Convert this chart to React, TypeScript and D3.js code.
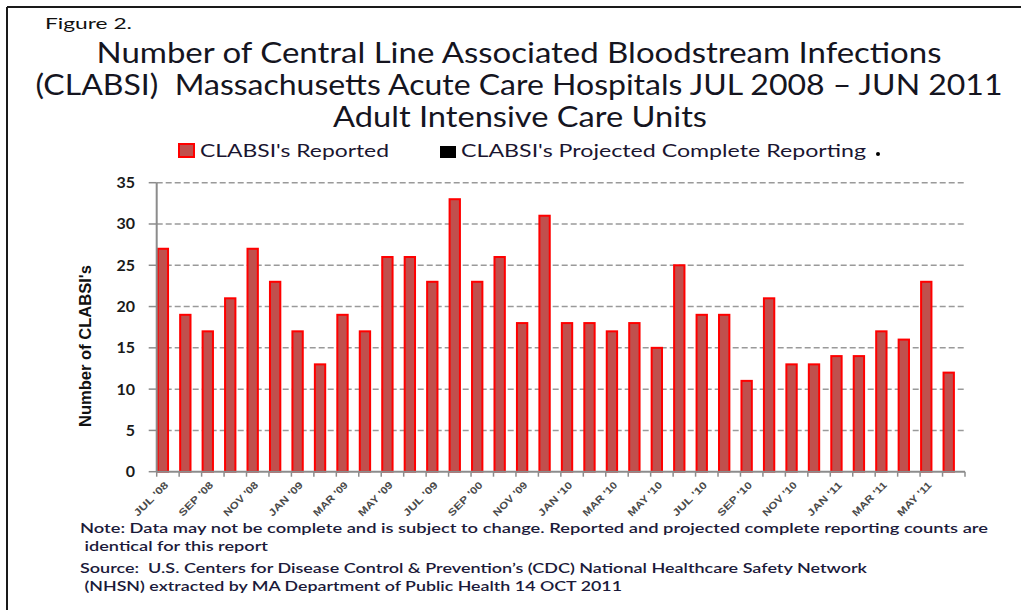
import React from "react";
import * as d3 from "d3";

const months = [
  "JUL '08","AUG '08","SEP '08","OCT '08","NOV '08","DEC '08",
  "JAN '09","FEB '09","MAR '09","APR '09","MAY '09","JUN '09",
  "JUL '09","AUG '09","SEP '00","OCT '09","NOV '09","DEC '09",
  "JAN '10","FEB '10","MAR '10","APR '10","MAY '10","JUN '10",
  "JUL '10","AUG '10","SEP '10","OCT '10","NOV '10","DEC '10",
  "JAN '11","FEB '11","MAR '11","APR '11","MAY '11","JUN '11",
];
const reported = [
  27,19,17,21,27,23,
  17,13,19,17,26,26,
  23,33,23,26,18,31,
  18,18,17,18,15,25,
  19,19,11,21,13,13,
  14,14,17,16,23,12,
];
const projected = reported.map(() => 0);
const yTicks = [0,5,10,15,20,25,30,35];
const titleLines = [
  "Number of Central Line Associated Bloodstream Infections",
  "(CLABSI)  Massachusetts Acute Care Hospitals JUL 2008 \u2013 JUN 2011",
  "Adult Intensive Care Units",
];
const noteLines = [
  "Note: Data may not be complete and is subject to change. Reported and projected complete reporting counts are",
  " identical for this report",
  "Source:  U.S. Centers for Disease Control & Prevention\u2019s (CDC) National Healthcare Safety Network",
  " (NHSN) extracted by MA Department of Public Health 14 OCT 2011",
];

const FONT = "Lato, 'Open Sans', sans-serif";

export default function App() {
  const left = 156.7, right = 965, top = 182.7, bottom = 471.7;
  const x = d3.scaleBand<string>().domain(months).range([left, right]).padding(0);
  const y = d3.scaleLinear().domain([0, 35]).range([bottom, top]);
  const bw = x.bandwidth();
  const sub = d3.scaleBand<string>().domain(["rep", "proj"]).range([0, bw * 1.1]).padding(0);

  const titleSpec = [
    { x: 519, y: 63, len: 845 },
    { x: 519, y: 95, len: 967 },
    { x: 520, y: 127, len: 374 },
  ];
  const noteSpec = [
    { x: 80, y: 533, len: 908 },
    { x: 80, y: 551, len: 188 },
    { x: 80, y: 573, len: 787 },
    { x: 80, y: 591, len: 542 },
  ];

  return (
    <svg width={1021} height={610} style={{ position: "absolute", left: 0, top: 0, background: "#fff" }}>
      <rect x={0} y={0} width={1021} height={610} fill="#fff" />
      <line x1={7} y1={7} x2={1021} y2={7} stroke="#1a1a1a" strokeWidth={2} />
      <line x1={7} y1={7} x2={7} y2={610} stroke="#1a1a1a" strokeWidth={2} />

      <text x={45} y={29} fontFamily={FONT} fontSize={16} fill="#111" textLength={87} lengthAdjust="spacingAndGlyphs">Figure 2.</text>
      {titleLines.map((t, i) => (
        <text key={i} x={titleSpec[i].x} y={titleSpec[i].y} textAnchor="middle" fontFamily={FONT}
          fontSize={28} fill="#15151f" textLength={titleSpec[i].len} lengthAdjust="spacingAndGlyphs"
          style={{ whiteSpace: "pre" }}>{t}</text>
      ))}

      {/* legend */}
      <rect x={179} y={144} width={15} height={13} fill="#C0504D" stroke="#FF0000" strokeWidth={2} />
      <text x={200} y={157} fontFamily={FONT} fontSize={17} fill="#1a1530" textLength={189} lengthAdjust="spacingAndGlyphs">CLABSI's Reported</text>
      <rect x={440} y={146} width={16} height={12} fill="#000" />
      <text x={461} y={157} fontFamily={FONT} fontSize={17} fill="#1a1530" textLength={405} lengthAdjust="spacingAndGlyphs">CLABSI's Projected Complete Reporting</text>
      <circle cx={878} cy={154} r={2} fill="#000" />

      {/* gridlines */}
      {yTicks.filter(t => t > 0).map(t => (
        <line key={t} x1={left} x2={right} y1={y(t)} y2={y(t)} stroke="#9a9a9a" strokeWidth={1.5} strokeDasharray="6,3" />
      ))}

      {/* bars */}
      {months.map((m, i) => (
        <g key={m}>
          <rect x={(x(m) as number) + (sub("rep") as number) + 1} y={y(reported[i])}
            width={sub.bandwidth() - 2} height={bottom - y(reported[i])}
            fill="#C0504D" stroke="#FF0000" strokeWidth={2} />
          {projected[i] > 0 && (
            <rect x={(x(m) as number) + (sub("proj") as number)} y={y(projected[i])}
              width={sub.bandwidth()} height={bottom - y(projected[i])} fill="#000" />
          )}
        </g>
      ))}

      {/* y axis */}
      <line x1={left} x2={left} y1={top} y2={bottom} stroke="#8c8c8c" strokeWidth={2} />
      {yTicks.map(t => (
        <g key={t}>
          <line x1={left - 8} x2={left} y1={y(t)} y2={y(t)} stroke="#8c8c8c" strokeWidth={1.5} />
          <text x={135} y={y(t) + 5.5} textAnchor="end" fontFamily={FONT} fontWeight={700} fontSize={16} fill="#1a1a1a">{t}</text>
        </g>
      ))}
      <text transform={`translate(91,346) rotate(-90)`} textAnchor="middle"
        fontFamily="'Liberation Sans Narrow', 'Liberation Sans', sans-serif" fontWeight={700} fontSize={17}
        fill="#111" textLength={162} lengthAdjust="spacingAndGlyphs">Number of CLABSI's</text>

      {/* x axis */}
      <line x1={left} x2={right} y1={bottom} y2={bottom} stroke="#8c8c8c" strokeWidth={2} />
      {months.concat(["__end"]).map((m, i) => {
        const xx = left + i * bw;
        return <line key={m} x1={xx} x2={xx} y1={bottom} y2={bottom + 5} stroke="#8c8c8c" strokeWidth={1.5} />;
      })}
      {months.map((m, i) => {
        if (i % 2 !== 0) return null;
        const cx = (x(m) as number) + bw / 2 + 1;
        const cy = bottom + 14;
        return (
          <text key={m} x={0} y={0}
            transform={`translate(${cx},${cy}) rotate(-45)`}
            textAnchor="end" fontFamily="'Liberation Sans', Arial, sans-serif" fontWeight={700}
            fontSize={10} fill="#4a4a4a" textLength={m.length * 6.3} lengthAdjust="spacingAndGlyphs">{m}</text>
        );
      })}

      {/* notes */}
      {noteLines.map((t, i) => (
        <text key={i} x={noteSpec[i].x} y={noteSpec[i].y} fontFamily={FONT} fontSize={13.5} fontWeight={600}
          fill="#1b1a3a" textLength={noteSpec[i].len} lengthAdjust="spacingAndGlyphs" style={{ whiteSpace: "pre" }}>{t}</text>
      ))}
    </svg>
  );
}
